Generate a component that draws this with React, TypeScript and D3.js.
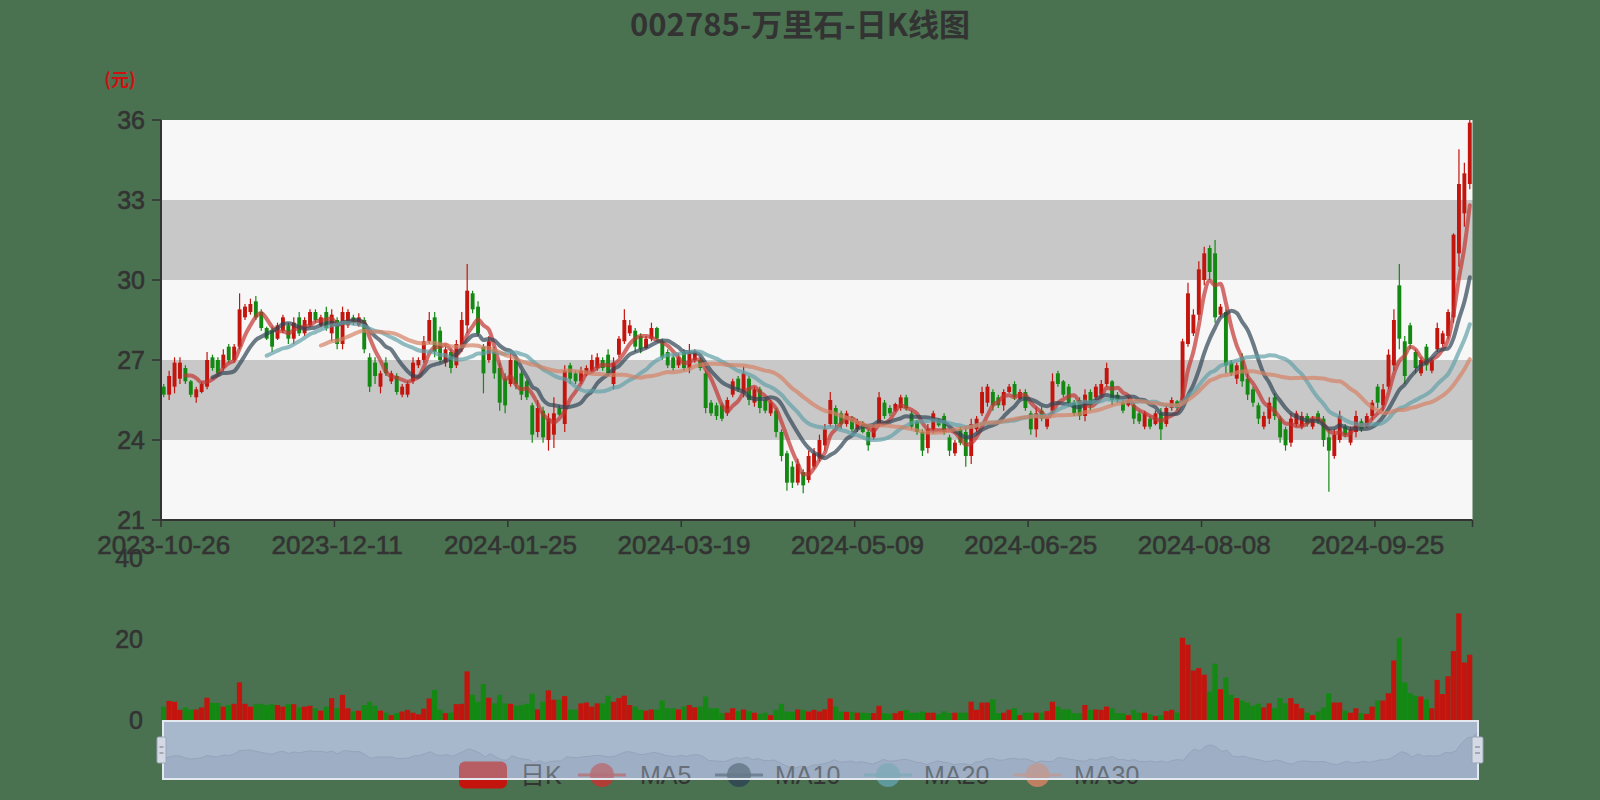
import React from 'react';
import * as d3 from 'd3';

const dates: string[] = [
'2023-10-26','2023-10-27','2023-10-30','2023-10-31',
'2023-11-01','2023-11-02','2023-11-03','2023-11-06','2023-11-07','2023-11-08','2023-11-09','2023-11-10','2023-11-13','2023-11-14','2023-11-15','2023-11-16','2023-11-17','2023-11-20','2023-11-21','2023-11-22','2023-11-23','2023-11-24','2023-11-27','2023-11-28','2023-11-29','2023-11-30',
'2023-12-01','2023-12-04','2023-12-05','2023-12-06','2023-12-07','2023-12-08','2023-12-11','2023-12-12','2023-12-13','2023-12-14','2023-12-15','2023-12-18','2023-12-19','2023-12-20','2023-12-21','2023-12-22','2023-12-25','2023-12-26','2023-12-27','2023-12-28','2023-12-29',
'2024-01-02','2024-01-03','2024-01-04','2024-01-05','2024-01-08','2024-01-09','2024-01-10','2024-01-11','2024-01-12','2024-01-15','2024-01-16','2024-01-17','2024-01-18','2024-01-19','2024-01-22','2024-01-23','2024-01-24','2024-01-25','2024-01-26','2024-01-29','2024-01-30','2024-01-31',
'2024-02-01','2024-02-02','2024-02-05','2024-02-06','2024-02-07','2024-02-08','2024-02-19','2024-02-20','2024-02-21','2024-02-22','2024-02-23','2024-02-26','2024-02-27','2024-02-28','2024-02-29',
'2024-03-01','2024-03-04','2024-03-05','2024-03-06','2024-03-07','2024-03-08','2024-03-11','2024-03-12','2024-03-13','2024-03-14','2024-03-15','2024-03-18','2024-03-19','2024-03-20','2024-03-21','2024-03-22','2024-03-25','2024-03-26','2024-03-27','2024-03-28','2024-03-29',
'2024-04-01','2024-04-02','2024-04-03','2024-04-08','2024-04-09','2024-04-10','2024-04-11','2024-04-12','2024-04-15','2024-04-16','2024-04-17','2024-04-18','2024-04-19','2024-04-22','2024-04-23','2024-04-24','2024-04-25','2024-04-26','2024-04-29','2024-04-30',
'2024-05-06','2024-05-07','2024-05-08','2024-05-09','2024-05-10','2024-05-13','2024-05-14','2024-05-15','2024-05-16','2024-05-17','2024-05-20','2024-05-21','2024-05-22','2024-05-23','2024-05-24','2024-05-27','2024-05-28','2024-05-29','2024-05-30','2024-05-31',
'2024-06-03','2024-06-04','2024-06-05','2024-06-06','2024-06-07','2024-06-11','2024-06-12','2024-06-13','2024-06-14','2024-06-17','2024-06-18','2024-06-19','2024-06-20','2024-06-21','2024-06-24','2024-06-25','2024-06-26','2024-06-27','2024-06-28',
'2024-07-01','2024-07-02','2024-07-03','2024-07-04','2024-07-05','2024-07-08','2024-07-09','2024-07-10','2024-07-11','2024-07-12','2024-07-15','2024-07-16','2024-07-17','2024-07-18','2024-07-19','2024-07-22','2024-07-23','2024-07-24','2024-07-25','2024-07-26','2024-07-29','2024-07-30','2024-07-31',
'2024-08-01','2024-08-02','2024-08-05','2024-08-06','2024-08-07','2024-08-08','2024-08-09','2024-08-12','2024-08-13','2024-08-14','2024-08-15','2024-08-16','2024-08-19','2024-08-20','2024-08-21','2024-08-22','2024-08-23','2024-08-26','2024-08-27','2024-08-28','2024-08-29','2024-08-30',
'2024-09-02','2024-09-03','2024-09-04','2024-09-05','2024-09-06','2024-09-09','2024-09-10','2024-09-11','2024-09-12','2024-09-13','2024-09-18','2024-09-19','2024-09-20','2024-09-23','2024-09-24','2024-09-25','2024-09-26','2024-09-27','2024-09-30',
'2024-10-08','2024-10-09','2024-10-10','2024-10-11','2024-10-14','2024-10-15','2024-10-16','2024-10-17','2024-10-18','2024-10-21','2024-10-22','2024-10-23','2024-10-24','2024-10-25'
];

// [open, close, low, high]
const ohlc: number[][] = [
[26.0,25.7,25.6,26.1],[25.7,26.4,25.5,26.6],[26.0,26.9,25.75,27.1],[26.3,26.9,26.1,27.1],[26.7,26.2,26.1,26.8],
[26.2,25.7,25.6,26.25],[25.6,25.9,25.4,26.0],[25.8,26.1,25.75,26.2],[26.0,27.0,25.9,27.3],[27.1,26.7,26.6,27.2],
[27.0,26.5,26.4,27.1],[26.7,27.2,26.6,27.4],[27.5,27.0,26.9,27.6],[27.0,27.5,26.9,27.6],[27.5,28.9,27.4,29.5],
[28.6,29.0,28.5,29.1],[28.8,29.1,28.7,29.3],[29.2,28.6,28.5,29.4],[28.8,28.2,28.1,28.9],[28.2,27.8,27.75,28.25],
[28.1,27.5,27.3,28.25],[27.8,28.3,27.75,28.4],[28.1,28.6,28.0,28.7],[28.3,27.8,27.6,28.4],[27.8,28.4,27.6,28.6],
[28.6,28.0,27.9,28.8],[28.0,28.5,27.9,28.6],[28.3,28.8,28.25,28.9],[28.8,28.5,28.4,28.9],[28.3,28.6,28.25,28.7],
[28.8,28.2,28.1,29.0],[28.0,28.7,27.7,28.9],[28.5,27.6,27.4,28.6],[27.6,28.8,27.4,29.0],[28.3,28.8,28.2,28.9],
[28.6,28.4,28.3,28.7],[28.3,28.6,28.25,28.75],[28.5,27.4,27.25,28.6],[27.1,26.0,25.8,27.25],[26.9,26.4,26.1,27.1],
[26.0,26.5,25.75,26.6],[26.9,26.5,26.4,27.1],[26.2,26.5,26.1,26.6],[26.4,25.8,25.7,26.5],[25.7,26.0,25.6,26.1],
[25.7,26.1,25.6,26.2],[26.2,26.9,26.1,27.1],[26.8,27.0,26.7,27.1],[27.0,27.7,26.9,27.9],[27.7,28.5,27.6,28.8],
[28.6,27.3,27.1,28.8],[28.1,27.0,26.9,28.25],[26.9,27.4,26.75,27.6],[27.3,26.7,26.5,27.4],[26.8,27.6,26.7,27.75],
[27.5,28.5,27.3,28.8],[28.3,29.6,28.0,30.6],[29.5,28.9,28.75,29.6],[29.0,28.0,27.9,29.2],[27.5,26.5,25.75,27.6],
[27.0,27.7,26.9,27.9],[27.4,26.5,26.3,27.5],[26.7,25.4,25.1,26.9],[26.3,25.3,25.0,26.5],[26.1,27.0,26.0,27.25],
[27.0,26.1,25.9,27.1],[26.5,25.7,25.5,26.6],[26.2,25.6,25.5,26.25],[25.3,24.2,23.9,25.4],[24.3,25.2,24.1,25.5],
[25.1,24.1,23.9,25.25],[24.0,24.8,23.6,25.0],[24.2,25.0,23.7,25.6],[25.2,24.95,24.9,25.3],[24.6,26.6,24.3,26.8],
[26.8,26.3,26.1,26.9],[26.5,26.2,26.1,26.6],[26.2,26.6,26.1,26.75],[26.45,26.7,26.4,26.8],[26.6,27.0,26.5,27.2],
[26.7,27.1,26.6,27.25],[27.0,26.7,26.6,27.1],[27.2,26.5,26.4,27.4],[26.1,26.9,25.9,27.1],[27.2,27.8,27.1,27.9],
[27.7,28.5,27.6,28.9],[28.0,28.3,27.9,28.5],[28.1,27.5,27.3,28.2],[27.9,27.4,27.25,28.0],[27.45,27.8,27.4,27.9],
[27.8,28.2,27.7,28.4],[28.2,27.8,27.75,28.25],[27.7,27.1,27.0,27.8],[27.3,26.8,26.7,27.4],[27.1,26.7,26.6,27.2],
[26.8,27.1,26.7,27.25],[27.3,26.7,26.6,27.4],[26.7,27.3,26.5,27.6],[27.0,27.3,26.9,27.4],[27.0,26.7,26.6,27.1],
[26.5,25.2,25.0,26.6],[25.4,25.0,24.9,25.5],[25.3,24.9,24.75,25.4],[25.3,24.8,24.7,25.4],[25.0,25.5,24.9,25.6],
[25.7,26.2,25.6,26.3],[26.3,25.9,25.8,26.4],[25.8,26.5,25.6,26.75],[26.3,25.5,25.3,26.4],[25.4,25.9,25.25,26.0],
[25.9,25.2,25.0,26.0],[25.5,25.1,25.0,25.6],[25.0,25.4,24.9,25.5],[25.1,24.3,24.1,25.2],[24.3,23.4,23.2,24.4],
[23.5,22.4,22.1,23.6],[23.0,22.4,22.2,23.2],[22.4,23.1,22.3,23.3],[22.8,22.3,22.0,22.9],[22.5,23.4,22.4,23.6],
[23.0,23.5,22.9,23.7],[23.3,24.0,23.2,24.2],[23.8,24.4,23.6,24.6],[24.6,25.5,24.5,25.8],[25.2,24.6,24.4,25.3],
[25.0,24.6,24.4,25.1],[24.6,25.0,24.5,25.1],[24.8,24.4,24.3,24.9],[24.4,24.7,24.3,24.8],[24.6,24.3,24.25,24.7],
[24.3,23.8,23.6,24.4],[24.1,24.5,24.0,24.6],[24.6,25.6,24.5,25.8],[25.4,24.9,24.8,25.5],[25.2,25.0,24.9,25.3],
[25.1,25.35,25.05,25.4],[25.2,25.6,25.1,25.7],[25.6,25.2,25.1,25.7],[25.0,24.5,24.4,25.1],[24.7,24.3,24.2,24.75],
[24.3,23.6,23.4,24.4],[23.7,24.4,23.5,24.6],[24.4,25.0,24.25,25.1],[24.75,24.55,24.5,24.8],[24.9,24.3,24.2,25.0],
[24.1,23.6,23.4,24.2],[23.5,23.9,23.4,24.0],[24.4,23.9,23.8,24.5],[24.3,23.4,23.0,24.5],[23.4,24.6,23.1,24.8],
[24.4,24.8,24.3,24.9],[25.0,25.8,24.9,26.0],[25.4,26.0,25.25,26.1],[25.8,25.3,25.1,25.9],[25.6,25.3,25.2,25.7],
[25.3,25.8,25.1,25.9],[25.8,26.0,25.75,26.1],[26.1,25.6,25.5,26.2],[25.55,25.8,25.5,25.9],[25.8,25.2,25.1,25.9],
[25.0,24.4,24.2,25.1],[24.4,25.0,24.1,25.25],[25.1,24.8,24.7,25.25],[24.5,24.8,24.4,24.9],[25.1,26.2,25.0,26.5],
[26.5,26.1,26.0,26.6],[26.2,25.7,25.6,26.25],[26.0,25.4,25.25,26.1],[25.4,25.0,24.9,25.5],[25.5,24.9,24.75,25.6],
[24.9,25.7,24.7,25.9],[25.8,25.3,25.1,25.9],[25.6,26.0,25.5,26.1],[25.7,26.1,25.6,26.25],[26.1,26.7,26.0,26.9],
[26.2,25.5,25.3,26.25],[25.7,25.5,25.4,25.8],[25.4,25.1,25.0,25.5],[25.3,25.5,25.25,25.6],[25.3,24.8,24.6,25.4],
[25.0,24.7,24.6,25.1],[24.5,25.0,24.4,25.1],[24.8,24.5,24.4,24.9],[24.6,25.0,24.55,25.1],[25.0,24.4,24.0,25.2],
[24.6,25.2,24.5,25.3],[25.2,25.5,25.1,25.6],[25.45,25.2,25.1,25.5],[25.5,27.7,25.4,27.8],[27.6,29.5,27.5,29.9],
[28.0,28.7,27.9,28.9],[28.7,30.4,28.5,30.7],[30.0,31.0,29.8,31.25],[31.2,30.3,30.0,31.3],[31.0,28.6,28.4,31.5],
[28.7,29.0,28.6,29.1],[28.8,26.8,26.5,28.9],[26.9,26.5,26.4,27.0],[26.3,26.8,26.1,26.9],[27.1,26.2,26.0,27.25],
[26.3,25.7,25.5,26.5],[25.9,25.4,25.25,26.0],[25.3,24.8,24.6,25.4],[24.5,24.9,24.4,25.06],[24.8,25.4,24.6,25.6],
[25.6,24.9,24.75,25.75],[24.8,24.1,23.9,24.9],[24.4,23.8,23.6,24.5],[23.9,24.8,23.75,25.0],[24.6,25.0,24.5,25.1],
[24.5,24.9,24.4,25.06],[24.9,24.6,24.5,25.0],[24.5,24.8,24.4,24.9],[25.0,24.7,24.6,25.1],[24.8,24.0,23.75,24.9],
[24.1,23.6,22.06,24.4],[23.4,24.2,23.3,24.4],[24.0,24.9,23.9,25.1],[24.5,24.2,24.1,24.6],[23.9,24.4,23.8,24.5],
[24.3,24.9,24.1,25.1],[24.7,24.4,24.3,24.8],[24.5,24.9,24.45,25.0],[24.9,25.4,24.75,25.5],[26.0,25.4,25.2,26.1],
[25.3,25.9,25.1,26.1],[26.0,27.2,25.9,27.4],[26.8,28.5,26.6,28.9],[29.8,27.8,27.4,30.6],[27.7,26.4,26.1,27.9],
[28.3,27.6,27.4,28.4],[27.3,26.7,26.5,27.4],[26.5,27.0,26.4,27.1],[27.5,26.8,26.6,27.6],[26.6,27.0,26.5,27.05],
[27.4,28.2,27.3,28.4],[27.6,28.0,27.5,28.1],[27.9,28.8,27.8,28.9],[28.6,31.7,28.4,31.75],[31.0,33.6,30.5,34.9],
[32.5,34.0,32.0,34.4],[33.6,35.9,33.4,36.0]
];

const volumes: number[] = [
3.3,4.7,4.5,2.5,3.1,2.6,2.6,3.1,5.5,4.2,4.2,3.3,3.7,4.0,9.3,4.0,3.3,3.9,4.0,3.7,
3.9,3.7,3.3,3.9,3.9,3.1,3.3,3.5,2.9,2.3,3.3,5.4,2.9,6.2,2.9,2.1,2.3,3.7,4.5,3.5,
2.3,1.8,1.2,1.7,2.1,2.5,1.8,1.4,2.8,5.3,7.4,2.5,1.7,1.8,3.9,4.0,12.0,6.2,4.5,8.9,
5.5,4.1,6.2,4.1,4.0,3.5,3.7,4.0,6.5,2.6,4.5,7.3,5.0,5.0,5.9,2.6,2.5,4.1,4.3,3.3,
4.1,4.1,6.0,4.5,5.4,6.0,3.7,3.3,2.5,2.3,2.6,2.6,4.8,2.9,2.9,2.6,3.3,3.7,3.1,3.3,
5.8,2.9,2.9,1.7,1.8,2.9,2.2,2.6,2.2,1.8,1.5,1.8,1.2,2.5,4.0,2.1,2.0,2.6,2.5,2.1,
2.5,2.1,2.6,5.3,3.3,2.1,2.0,2.0,1.8,1.8,1.7,1.7,3.5,1.7,1.5,1.7,2.2,2.5,1.8,1.8,
2.1,1.8,1.8,1.4,2.1,1.7,1.8,1.8,1.8,4.5,2.5,4.3,4.3,5.1,1.7,1.8,2.5,2.9,1.2,1.8,
1.8,1.8,1.8,2.2,4.5,3.3,2.6,2.6,1.7,1.7,3.7,2.5,2.6,2.5,3.3,2.9,1.7,1.7,1.2,2.5,
1.8,1.8,1.4,1.0,1.2,2.2,2.5,1.8,20.3,18.6,12.2,12.8,11.2,7.0,13.9,7.6,10.5,6.2,5.4,4.8,
4.3,3.5,4.0,3.1,4.1,2.9,5.4,4.1,5.4,4.0,2.9,1.8,1.2,2.1,3.1,6.6,4.3,4.3,2.3,1.8,
2.9,1.7,1.5,3.3,4.8,4.8,6.6,14.7,20.3,9.3,6.6,6.0,5.8,5.1,2.9,9.9,6.4,10.8,17.0,26.3,
14.2,16.1
];

const priceTicks = [21, 24, 27, 30, 33, 36];
const volumeTicks = [0, 20, 40];
const labelInterval = 32;
const maPeriods = [5, 10, 20, 30];
const maNames = ['MA5', 'MA10', 'MA20', 'MA30'];
const maColors = ['#c23531', '#2f4554', '#61a0a8', '#d48265'];
const titleText = '002785-万里石-日K线图';
const unitText = '(元)';
const candleName = '日K';

const W = 1600, H = 800;
const BG = '#4a7150';
const UP = '#c3150d';
const DOWN = '#138913';
const gridL = 161, gridR = 1472.5, gridT = 120, gridB = 520;
const volT = 558, volB = 720;
const zL = 163, zR = 1478, zT = 721, zB = 779;
const FONT = '"Liberation Sans", "Noto Sans CJK SC", sans-serif';
const TXT = '#333';

export default function App() {
  const closes = ohlc.map((d) => d[1]);
  const x = d3.scaleBand<string>().domain(dates).range([gridL, gridR]).paddingInner(0).paddingOuter(0);
  const bw = x.bandwidth();
  const cx = (i: number) => (x(dates[i]) as number) + bw / 2;
  const y = d3.scaleLinear().domain([21, 36]).range([gridB, gridT]);
  const yv = d3.scaleLinear().domain([0, 40]).range([volB, volT]);

  const maSeries = maPeriods.map((n) =>
    closes.map((_, i) => (i < n - 1 ? null : (d3.mean(closes.slice(i - n + 1, i + 1)) as number)))
  );
  const line = d3
    .line<number | null>()
    .defined((d) => d != null)
    .x((_, i) => cx(i))
    .y((d) => y(d as number))
    .curve(d3.curveMonotoneX);

  const cMin = d3.min(closes) as number;
  const cMax = d3.max(closes) as number;
  const off = (cMax - cMin) * 0.3;
  const xs = d3.scaleLinear().domain([0, dates.length - 1]).range([zL, zR]);
  const ys = d3.scaleLinear().domain([cMin - off, cMax + off]).range([zB, zT]);
  const shadowLine = d3.line<number>().x((_, i) => xs(i)).y((d) => ys(d));
  const shadowArea = d3.area<number>().x((_, i) => xs(i)).y0(zB).y1((d) => ys(d));

  const tickIdx = d3.range(0, dates.length, labelInterval);
  const bodyW = 3.9;

  const legendIcons = [483, 602, 739, 888, 1037.5];
  const legendTexts = [520, 640, 775, 924, 1074];
  const legendY = 775;

  const boldish = { stroke: TXT, strokeWidth: 0.6 };

  return (
    <svg width={W} height={H} style={{ position: 'absolute', left: 0, top: 0 }} fontFamily={FONT}>
      <rect x={0} y={0} width={W} height={H} fill={BG} />
      <defs>
        <clipPath id="plotClip">
          <rect x={gridL} y={gridT} width={gridR - gridL} height={gridB - gridT} />
        </clipPath>
      </defs>

      <text x={800} y={36} textAnchor="middle" fontSize={31} fontWeight="bold" fill={TXT}
        fontFamily='"Noto Sans CJK SC", sans-serif'>{titleText}</text>
      <text x={120} y={86} textAnchor="middle" fontSize={18} fontWeight="bold" fill="#d01010"
        fontFamily='"Noto Sans CJK SC", sans-serif'>{unitText}</text>

      {priceTicks.slice(0, -1).map((t, k) => (
        <rect key={'sa' + k} x={gridL} y={y(priceTicks[k + 1])} width={gridR - gridL}
          height={y(t) - y(priceTicks[k + 1])} fill={k % 2 === 1 ? '#c8c8c8' : '#f7f7f7'} />
      ))}

      {ohlc.map((d, i) => {
        const [o, c, l, h] = d;
        const up = c >= o;
        const col = up ? UP : DOWN;
        const top = y(Math.max(o, c));
        const bot = y(Math.min(o, c));
        return (
          <g key={'c' + i}>
            <line x1={cx(i)} x2={cx(i)} y1={y(h)} y2={y(l)} stroke={col} strokeWidth={1.2} />
            <rect x={cx(i) - bodyW / 2} y={top} width={bodyW} height={Math.max(1, bot - top)} fill={col} />
          </g>
        );
      })}

      <g clipPath="url(#plotClip)">
        {maSeries.map((s, k) => (
          <path key={'ma' + k} d={line(s) || ''} fill="none" stroke={maColors[k]} strokeOpacity={0.7}
            strokeWidth={4} strokeLinejoin="round" strokeLinecap="round" />
        ))}
      </g>

      <line x1={gridL} x2={gridL} y1={gridT} y2={gridB} stroke={TXT} strokeWidth={2} />
      {priceTicks.map((t) => (
        <g key={'yt' + t}>
          <line x1={gridL - 9} x2={gridL} y1={y(t)} y2={y(t)} stroke={TXT} strokeWidth={1.5} />
          <text x={145} y={y(t)} dy="0.36em" textAnchor="end" fontSize={25} fill={TXT} {...boldish}>{t}</text>
        </g>
      ))}

      <line x1={gridL} x2={gridR} y1={gridB} y2={gridB} stroke={TXT} strokeWidth={2} />
      {tickIdx.map((k) => (
        <g key={'xt' + k}>
          <line x1={x(dates[k]) as number} x2={x(dates[k]) as number} y1={gridB} y2={gridB + 7} stroke={TXT} strokeWidth={1.5} />
          <text x={cx(k)} y={554} textAnchor="middle" fontSize={26} fill={TXT} {...boldish}>{dates[k]}</text>
        </g>
      ))}
      <line x1={gridR} x2={gridR} y1={gridB} y2={gridB + 7} stroke={TXT} strokeWidth={1.5} />

      {volumes.map((v, i) => {
        const up = ohlc[i][1] >= ohlc[i][0];
        return (
          <rect key={'v' + i} x={x(dates[i]) as number} y={yv(v)} width={bw * 0.96} height={volB - yv(v)}
            fill={up ? UP : DOWN} />
        );
      })}
      {volumeTicks.map((t) => (
        <text key={'vt' + t} x={143} y={yv(t)} dy="0.36em" textAnchor="end" fontSize={25} fill={TXT} {...boldish}>{t}</text>
      ))}

      <rect x={zL} y={zT} width={zR - zL} height={zB - zT} fill="#aab8cd" />
      <path d={shadowArea(closes) || ''} fill="#98a6bd" />
      <path d={shadowLine(closes) || ''} fill="none" stroke="#8593ab" strokeWidth={1} />

      <rect x={legendIcons[0] - 24} y={legendY - 13.5} width={48} height={27} rx={6} fill={UP} />
      <text x={legendTexts[0]} y={legendY} dy="0.36em" fontSize={25} fill={TXT}>{candleName}</text>
      {maNames.map((nm, k) => (
        <g key={'lg' + k}>
          <line x1={legendIcons[k + 1] - 24} x2={legendIcons[k + 1] + 24} y1={legendY} y2={legendY}
            stroke={maColors[k]} strokeWidth={3} strokeOpacity={0.8} />
          <circle cx={legendIcons[k + 1]} cy={legendY} r={12} fill={maColors[k]} fillOpacity={0.85} />
          <text x={legendTexts[k + 1]} y={legendY} dy="0.36em" fontSize={25} fill={TXT}>{nm}</text>
        </g>
      ))}

      <rect x={zL} y={zT} width={zR - zL} height={zB - zT} fill="rgb(167,183,204)" fillOpacity={0.45}
        stroke="#e4e8ef" strokeWidth={2} />
      <rect x={157} y={737} width={9} height={26} rx={1.5} fill="#d3dae6" stroke="#9aa4b6" strokeWidth={1} />
      <line x1={159.5} x2={163.5} y1={747} y2={747} stroke="#777" strokeWidth={1} />
      <line x1={159.5} x2={163.5} y1={753} y2={753} stroke="#777" strokeWidth={1} />
      <rect x={1472} y={737} width={11} height={26} rx={1.5} fill="#d3dae6" stroke="#9aa4b6" strokeWidth={1} />
      <line x1={1475} x2={1480} y1={747} y2={747} stroke="#777" strokeWidth={1} />
      <line x1={1475} x2={1480} y1={753} y2={753} stroke="#777" strokeWidth={1} />
    </svg>
  );
}
